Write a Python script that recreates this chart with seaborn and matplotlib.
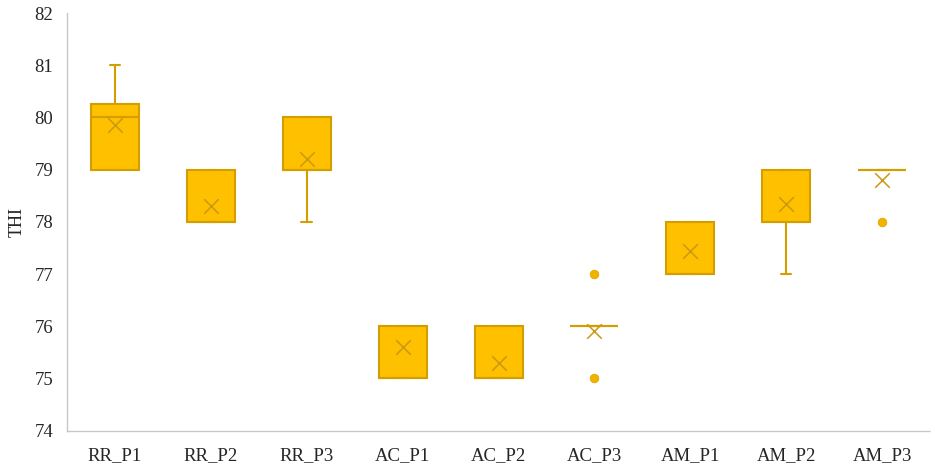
import numpy as np
import pandas as pd
import matplotlib
matplotlib.use("Agg")
import matplotlib.pyplot as plt
import seaborn as sns

# box statistics
groups = ["RR_P1", "RR_P2", "RR_P3", "AC_P1", "AC_P2", "AC_P3", "AM_P1", "AM_P2", "AM_P3"]
q1 = [79, 78, 79, 75, 75, 76, 77, 78, 79]
median = [80, 78, 79, 75, 75, 76, 77, 78, 79]
q3 = [80.25, 79, 80, 76, 76, 76, 78, 79, 79]
whisker_low = [79, 78, 78, 75, 75, 76, 77, 77, 79]
whisker_high = [81, 79, 80, 76, 76, 76, 78, 79, 79]
means = [79.85, 78.3, 79.2, 75.6, 75.3, 75.9, 77.45, 78.35, 78.8]
outliers = [[], [], [], [], [], [75, 77], [], [], [78]]

gold = "#FFC000"
edge = "#D39E00"

sns.set_style("white")
plt.rcParams["font.family"] = ["Liberation Serif", "DejaVu Serif"]

fig = plt.figure(figsize=(9.35, 4.69), dpi=100)
ax = fig.add_axes([0.0717, 0.082, 0.9230, 0.890])

stats = []
for i, g in enumerate(groups):
    stats.append({"label": g, "q1": q1[i], "med": median[i], "q3": q3[i],
                  "whislo": whisker_low[i], "whishi": whisker_high[i],
                  "mean": means[i], "fliers": outliers[i]})

ax.bxp(stats, positions=range(len(groups)), widths=0.5, patch_artist=True,
       showmeans=False, showfliers=False, capwidths=0.11,
       boxprops=dict(facecolor=gold, edgecolor=edge, linewidth=1.5),
       medianprops=dict(color=edge, linewidth=1.5),
       whiskerprops=dict(color=edge, linewidth=1.5),
       capprops=dict(color=edge, linewidth=1.5))

# mean markers
mean_df = pd.DataFrame({"x": range(len(groups)), "mean": means})
sns.scatterplot(data=mean_df, x="x", y="mean", marker="x", s=110, color="#C99A10",
                linewidth=1.1, ax=ax, zorder=5)

# outlier dots
out_x = [i for i, o in enumerate(outliers) for _ in o]
out_y = [v for o in outliers for v in o]
sns.scatterplot(x=out_x, y=out_y, s=38, color="#F2B300", edgecolor="#E0A800",
                linewidth=0.6, ax=ax, zorder=5)

ax.set_xlim(-0.5, len(groups) - 0.5)
ax.set_ylim(74, 82)
ax.set_yticks(range(74, 83))
ax.set_xticks(range(len(groups)))
ax.set_xticklabels(groups)
ax.set_xlabel("")
ax.set_ylabel("THI", fontsize=13, labelpad=6)
ax.tick_params(axis="both", labelsize=13.5, length=0, pad=10)
ax.tick_params(axis="x", pad=12)

sns.despine(ax=ax)
for side in ["left", "bottom"]:
    ax.spines[side].set_color("#C8C8C8")
    ax.spines[side].set_linewidth(1.0)
    ax.spines[side].set_linestyle((0, (1, 1)))

fig.savefig("out.png", dpi=100)
